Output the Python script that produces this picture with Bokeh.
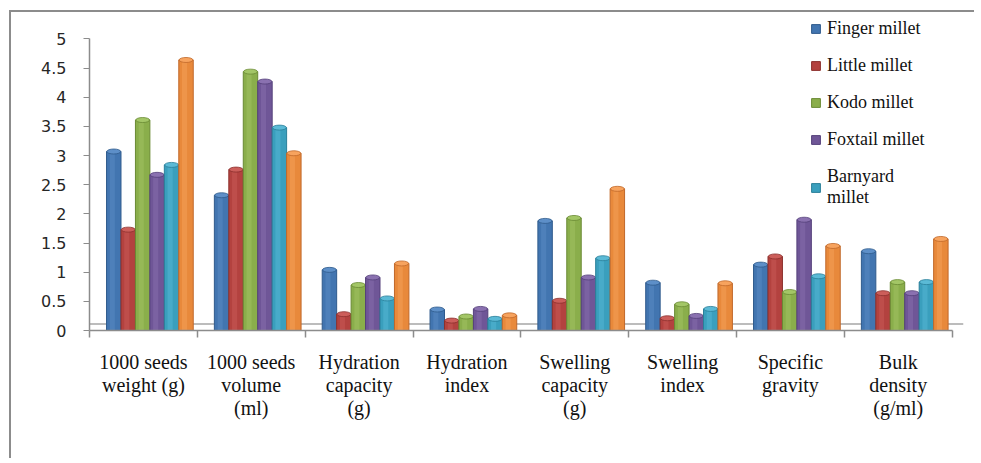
import numpy as np
from bokeh.plotting import figure
from bokeh.models import (Range1d, LinearAxis, FixedTicker, NumeralTickFormatter,
                          Legend, LegendItem, Span)
from bokeh.embed import file_html
from bokeh.resources import INLINE

categories = ["1000 seeds\nweight (g)", "1000 seeds\nvolume\n(ml)", "Hydration\ncapacity\n(g)",
              "Hydration\nindex", "Swelling\ncapacity\n(g)", "Swelling\nindex",
              "Specific\ngravity", "Bulk\ndensity\n(g/ml)"]

finger_millet = [3.07, 2.32, 1.04, 0.36, 1.88, 0.82, 1.13, 1.36]
little_millet = [1.73, 2.76, 0.28, 0.17, 0.51, 0.21, 1.27, 0.64]
kodo_millet = [3.61, 4.44, 0.78, 0.24, 1.93, 0.45, 0.66, 0.83]
foxtail_millet = [2.67, 4.27, 0.91, 0.37, 0.91, 0.25, 1.90, 0.64]
barnyard_millet = [2.84, 3.48, 0.55, 0.20, 1.24, 0.37, 0.93, 0.83]
proso_millet = [4.64, 3.04, 1.15, 0.26, 2.43, 0.81, 1.45, 1.57]

series_names = ["Finger millet", "Little millet", "Kodo millet", "Foxtail millet",
                "Barnyard\nmillet", "Proso millet"]
series_values = [finger_millet, little_millet, kodo_millet, foxtail_millet,
                 barnyard_millet, proso_millet]
colors = ["#4275b0", "#b3423f", "#8aae4b", "#6f5697", "#3a9fbd", "#e8893b"]
cap_colors = ["#5d8fc8", "#cc5e5a", "#a3c666", "#8a71b0", "#5bbad6", "#f7a35e"]
edge_colors = ["#2f5a8c", "#8c302d", "#6a8a34", "#54407a", "#2a7f99", "#c0682a"]

yticks = [0, 0.5, 1, 1.5, 2, 2.5, 3, 3.5, 4, 4.5, 5]

W, H = 965, 448
p = figure(width=W, height=H, output_backend="svg", toolbar_location=None,
           x_range=Range1d(0, 8.105), y_range=Range1d(0, 5.42),
           x_axis_location=None, y_axis_location=None,
           min_border_left=78, min_border_right=13, min_border_top=2, min_border_bottom=130)
p.styles = {"margin-left": "9px", "margin-top": "10px",
            "border-left": "2px solid #8c8c8c", "border-top": "2px solid #8c8c8c"}
p.outline_line_color = None
p.xgrid.visible = False
p.ygrid.visible = False
p.background_fill_color = "white"
p.border_fill_color = "white"

# back floor edge
p.add_layout(Span(location=0.11, dimension="width", line_color="#a6a6a6",
                  line_width=1.5, level="underlay"))

# y axis
yaxis = LinearAxis(ticker=FixedTicker(ticks=yticks), bounds=(0, 5),
                   formatter=NumeralTickFormatter(format="0.[0]"))
yaxis.axis_line_color = "#8c8c8c"
yaxis.axis_line_width = 1.5
yaxis.major_tick_line_color = "#8c8c8c"
yaxis.major_tick_out = 6
yaxis.major_tick_in = 0
yaxis.minor_tick_line_color = None
yaxis.major_label_text_font = "DejaVu Sans"
yaxis.major_label_text_font_size = "16px"
yaxis.major_label_text_color = "#262626"
yaxis.major_label_standoff = 17
p.add_layout(yaxis, "left")

# x axis: labels at category centres, ticks at boundaries
centres = [i + 0.5 for i in range(len(categories))]
bounds_ticks = list(range(len(categories) + 1))
xaxis = LinearAxis(ticker=FixedTicker(ticks=centres, minor_ticks=bounds_ticks), bounds=(0, 8))
xaxis.major_label_overrides = {c: lab for c, lab in zip(centres, categories)}
xaxis.axis_line_color = "#8c8c8c"
xaxis.axis_line_width = 1.5
xaxis.major_tick_line_color = None
xaxis.minor_tick_line_color = "#8c8c8c"
xaxis.minor_tick_line_width = 1.5
xaxis.minor_tick_out = 7
xaxis.minor_tick_in = 0
xaxis.major_label_text_font = "Liberation Serif"
xaxis.major_label_text_font_size = "20px"
xaxis.major_label_text_color = "#111111"
xaxis.major_label_text_line_height = 1.05
xaxis.major_label_standoff = 13
p.add_layout(xaxis, "below")

bw = 0.134
base = np.arange(len(categories)) + 0.56
renderers = []
for i, (name, vals) in enumerate(zip(series_names, series_values)):
    xs = base + (i - 2.5) * bw
    r = p.vbar(x=xs, top=vals, width=bw, bottom=0, fill_color=colors[i],
               line_color=edge_colors[i], line_width=1)
    p.vbar(x=xs - bw * 0.1, top=vals, width=bw * 0.35, bottom=0,
           fill_color=cap_colors[i], fill_alpha=0.45, line_color=None)
    p.ellipse(x=xs, y=vals, width=bw * 0.96, height=5, height_units="screen",
              fill_color=cap_colors[i], line_color=edge_colors[i], line_width=0.8)
    renderers.append(r)

legend = Legend(items=[LegendItem(label=series_names[i], renderers=[renderers[i]])
                       for i in range(5)],
                location=(721, 122))
legend.label_text_font = "Liberation Serif"
legend.label_text_font_size = "18px"
legend.label_text_color = "#111111"
legend.label_height = 20
legend.label_standoff = 6
legend.glyph_width = 11
legend.glyph_height = 11
legend.spacing = 16
legend.padding = 0
legend.margin = 0
legend.border_line_color = None
legend.background_fill_alpha = 0
p.add_layout(legend)

open("out.html", "w").write(file_html(p, INLINE))
